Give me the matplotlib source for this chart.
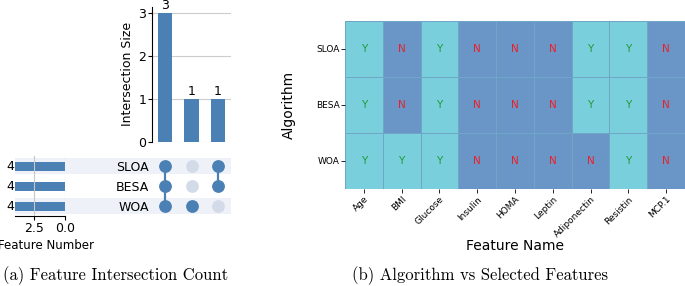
import matplotlib.pyplot as plt
from matplotlib.colors import ListedColormap
import numpy as np

# 数据
features = ['Age', 'BMI', 'Glucose', 'Insulin', 'HOMA', 'Leptin', 'Adiponectin', 'Resistin', 'MCP.1']
algorithms = ['SLOA', 'BESA', 'WOA']
selected = [
    [1, 0, 1, 0, 0, 0, 1, 1, 0],  # SLOA
    [1, 0, 1, 0, 0, 0, 1, 1, 0],  # BESA
    [1, 1, 1, 0, 0, 0, 0, 1, 0],  # WOA
]
set_sizes = [4, 4, 4]
intersection_sizes = [3, 1, 1]
intersection_members = [['SLOA', 'BESA', 'WOA'], ['WOA'], ['SLOA', 'BESA']]

W, H = 685, 286
BLUE = '#4a80b3'
Y_COLOR = '#79cfdb'
N_COLOR = '#6a96c7'


def box(x0, y0, x1, y1):
    # 像素坐标 -> figure 坐标
    return [x0 / W, 1 - y1 / H, (x1 - x0) / W, (y1 - y0) / H]


fig = plt.figure(figsize=(W / 100, H / 100), dpi=100)

# row index: WOA bottom (0), SLOA top (2)
row_y = {name: len(algorithms) - 1 - i for i, name in enumerate(algorithms)}

# 背景条纹
ax_bg = fig.add_axes(box(15, 156, 231, 216))
ax_bg.set_xlim(0, 1)
ax_bg.set_ylim(-0.5, 2.5)
for name, y in row_y.items():
    if y % 2 == 0:
        ax_bg.axhspan(y - 0.41, y + 0.41, color='#eef2f8', lw=0)
ax_bg.axis('off')

# 矩阵点
ax_m = fig.add_axes(box(152, 156, 231, 216))
ax_m.patch.set_alpha(0)
ax_m.set_xlim(-0.5, 2.5)
ax_m.set_ylim(-0.5, 2.5)
for j, members in enumerate(intersection_members):
    ys = [row_y[m] for m in members]
    if len(ys) > 1:
        ax_m.plot([j, j], [min(ys), max(ys)], color=BLUE, lw=1.6, zorder=2)
    for name, y in row_y.items():
        c = BLUE if name in members else '#d3dbe8'
        ax_m.scatter(j, y, s=85, color=c, zorder=3, lw=0)
ax_m.set_yticks([row_y[a] for a in algorithms])
ax_m.set_yticklabels(algorithms, fontsize=9)
ax_m.tick_params(axis='y', length=0, pad=2)
ax_m.set_xticks([])
for s in ax_m.spines.values():
    s.set_visible(False)

# 集合大小
ax_t = fig.add_axes(box(15, 156, 65, 216))
ax_t.patch.set_alpha(0)
yy = [row_y[a] for a in algorithms]
ax_t.barh(yy, set_sizes, height=0.45, color=BLUE, zorder=1)
ax_t.set_xlim(4, 0)
ax_t.set_ylim(-0.5, 2.5)
for y, v in zip(yy, set_sizes):
    ax_t.annotate(str(v), (v, y), xytext=(-0.5, 0), textcoords='offset points',
                  ha='right', va='center', fontsize=9)
ax_t.set_xticks([2.5, 0.0])
ax_t.set_xticklabels(['2.5', '0.0'], fontsize=9)
ax_t.set_yticks([])
ax_t.grid(axis='x', color='#c8c8c8', lw=0.8, zorder=5)
ax_t.set_axisbelow(False)
for k in ['top', 'left', 'right']:
    ax_t.spines[k].set_visible(False)
ax_t.set_xlabel('Feature Number', fontsize=8.5)
ax_t.xaxis.set_label_coords(0.62, -0.38)
ax_t.tick_params(axis='x', length=3, pad=1)

# 交集大小
ax_i = fig.add_axes(box(152, 6.5, 231, 142))
x = np.arange(len(intersection_sizes))
ax_i.bar(x, intersection_sizes, width=0.55, color=BLUE, zorder=2)
ax_i.set_xlim(-0.5, 2.5)
ax_i.set_ylim(0, 3.15)
for xi, v in zip(x, intersection_sizes):
    ax_i.text(xi, v + 0.02, str(v), ha='center', va='bottom', fontsize=9)
ax_i.set_yticks([0, 1, 2, 3])
ax_i.tick_params(axis='y', labelsize=9, length=3, pad=1)
ax_i.set_xticks([])
ax_i.grid(axis='y', color='#cccccc', lw=0.8)
ax_i.set_axisbelow(True)
for k in ['top', 'right', 'bottom']:
    ax_i.spines[k].set_visible(False)
ax_i.set_ylabel('Intersection Size', fontsize=9, labelpad=3)

# 热力图
ax_h = fig.add_axes(box(345, 21, 685, 189))
data = np.array(selected)
ax_h.pcolormesh(data, cmap=ListedColormap([N_COLOR, Y_COLOR]), vmin=0, vmax=1,
                edgecolors='#6fa6c8', linewidth=0.4)
ax_h.set_xlim(0, len(features))
ax_h.set_ylim(len(algorithms), 0)
for i in range(len(algorithms)):
    for j in range(len(features)):
        if data[i, j]:
            ax_h.text(j + 0.5, i + 0.5, 'Y', ha='center', va='center', fontsize=7.5, color='#1f9a3a')
        else:
            ax_h.text(j + 0.5, i + 0.5, 'N', ha='center', va='center', fontsize=7.5, color='#e8202a')
ax_h.set_xticks(np.arange(len(features)) + 0.5)
ax_h.set_xticklabels(features, rotation=45, ha='right', rotation_mode='anchor', fontsize=6.5)
ax_h.set_yticks(np.arange(len(algorithms)) + 0.5)
ax_h.set_yticklabels(algorithms, fontsize=6.5)
ax_h.tick_params(length=3, width=0.6, pad=1)
for s in ax_h.spines.values():
    s.set_visible(False)
ax_h.set_xlabel('Feature Name', fontsize=10, labelpad=0)
ax_h.set_ylabel('Algorithm', fontsize=10, labelpad=14)

# 标题
fig.text(3 / W, 1 - 276 / H, '(a) Feature Intersection Count', fontname='cmr10', fontsize=12, va='center')
fig.text(352 / W, 1 - 276 / H, '(b) Algorithm vs Selected Features', fontname='cmr10', fontsize=12, va='center')

fig.savefig('out.png', dpi=100)
